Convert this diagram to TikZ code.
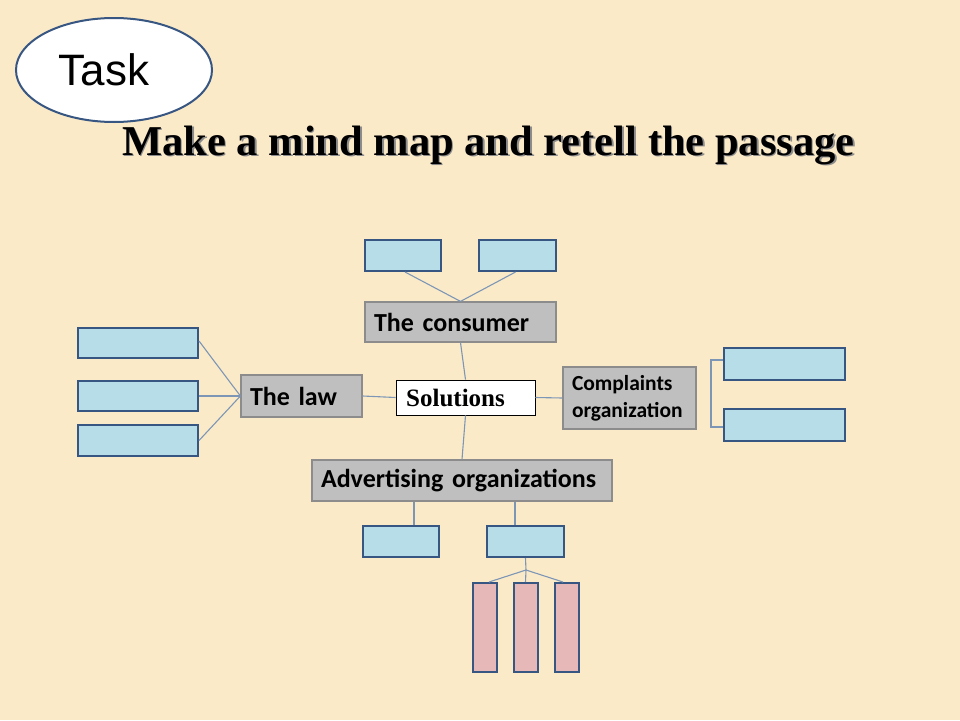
\documentclass[tikz,border=0pt]{standalone}
\usepackage{fontspec}
\setmainfont{Liberation Serif}
\newfontfamily\arialf{Liberation Sans}
\newfontfamily\calf{Carlito}
\usetikzlibrary{shapes.geometric}
\definecolor{bgc}{RGB}{251,234,200}
\definecolor{bluefill}{RGB}{183,222,232}
\definecolor{blueedge}{RGB}{56,86,130}
\definecolor{grayfill}{RGB}{191,191,191}
\definecolor{grayedge}{RGB}{140,140,140}
\definecolor{linkc}{RGB}{125,150,182}
\definecolor{pinkfill}{RGB}{230,185,184}
\newcommand{\titletext}{Make a mind map and retell the passage}
\tikzset{
  bluebox/.style={draw=blueedge,fill=bluefill,line width=2pt,inner sep=0pt},
  pinkbox/.style={draw=blueedge,fill=pinkfill,line width=2pt,inner sep=0pt,minimum width=24pt,minimum height=89pt},
  graybox/.style={draw=grayedge,fill=grayfill,line width=1.2pt,inner xsep=9pt,inner ysep=0pt,align=left,font=\calf\bfseries\fontsize{26}{30}\selectfont},
  link/.style={draw=linkc,line width=1.1pt}
}
\begin{document}
\begin{tikzpicture}[x=1pt,y=-1pt]
\useasboundingbox (0,0) rectangle (960,720);
\fill[bgc] (0,0) rectangle (960,720);
% Task ellipse
\node[ellipse,draw=blueedge,fill=white,line width=2pt,minimum width=196pt,minimum height=104pt,inner sep=0pt] (task) at (114,70) {};
\node[font=\arialf\fontsize{44}{48}\selectfont,inner sep=0pt] (tasktext) at (104,70) {Task};
% Title with shadow
\node[font=\bfseries\fontsize{42.5}{48}\selectfont,inner sep=0pt] (title) at (488.5,146) {\makebox[0pt][l]{\hspace*{1.5pt}\raisebox{-1.5pt}{\color{black!45}\titletext}}\titletext};
% Top boxes
\node[bluebox,minimum width=76pt,minimum height=31pt] (tb1) at (403,255.5) {};
\node[bluebox,minimum width=77pt,minimum height=31pt] (tb2) at (517.5,255.5) {};
\node[graybox,text width=173pt,minimum height=40pt] (consumer) at (460.5,322) {The consumer};
% Center
\node[draw=black,fill=white,line width=0.8pt,minimum width=139pt,minimum height=35pt,inner sep=0pt,font=\bfseries\fontsize{25}{28}\selectfont] (solutions) at (465.5,397.5) {\hspace*{-20pt}Solutions};
% Law
\node[graybox,text width=103pt,minimum height=42pt] (law) at (301.5,396) {The law};
\node[bluebox,minimum width=120pt,minimum height=30pt] (lb1) at (138,343) {};
\node[bluebox,minimum width=120pt,minimum height=30pt] (lb2) at (138,396) {};
\node[bluebox,minimum width=120pt,minimum height=31pt] (lb3) at (138,440.5) {};
% Complaints
\node[graybox,text width=115pt,minimum height=62pt,font=\calf\bfseries\fontsize{21.5}{27}\selectfont] (compl) at (629.5,398) {Complaints\\organization};
\node[bluebox,minimum width=121pt,minimum height=32pt] (rb1) at (784.5,364) {};
\node[bluebox,minimum width=121pt,minimum height=32pt] (rb2) at (784.5,425) {};
% Advertising
\node[graybox,text width=282pt,minimum height=41pt] (adv) at (462,480.5) {Advertising organizations};
\node[bluebox,minimum width=76pt,minimum height=31pt] (bb1) at (401,541.5) {};
\node[bluebox,minimum width=77pt,minimum height=31pt] (bb2) at (525.5,541.5) {};
\node[pinkbox] (p1) at (485,627.5) {};
\node[pinkbox] (p2) at (525.5,627.5) {};
\node[pinkbox] (p3) at (567,627.5) {};
\coordinate (junc) at (526,570);
% Connectors
\draw[link] ([xshift=2pt]tb1.south) -- (consumer.north);
\draw[link] ([xshift=-2pt]tb2.south) -- (consumer.north);
\draw[link] (consumer.south) -- (solutions.north);
\draw[link] (solutions.west) -- (law.east);
\draw[link] ([yshift=2pt]lb1.east) -- (law.west);
\draw[link] (lb2.east) -- (law.west);
\draw[link] (lb3.east) -- (law.west);
\draw[link] (solutions.east) -- (compl.west);
\draw[link] ([yshift=4pt]rb1.west) -- ++(-12,0) |- ([yshift=-2pt]rb2.west);
\draw[link] (solutions.south) -- (adv.north);
\draw[link] ([xshift=13pt]bb1.north) -- ([xshift=13pt]bb1.north |- adv.south);
\draw[link] ([xshift=-10.5pt]bb2.north) -- ([xshift=-10.5pt]bb2.north |- adv.south);
\draw[link] (bb2.south) -- (junc);
\draw[link] (junc) -- ([xshift=4pt]p1.north);
\draw[link] (junc) -- (p2.north);
\draw[link] (junc) -- ([xshift=-4pt]p3.north);
\end{tikzpicture}
\end{document}
